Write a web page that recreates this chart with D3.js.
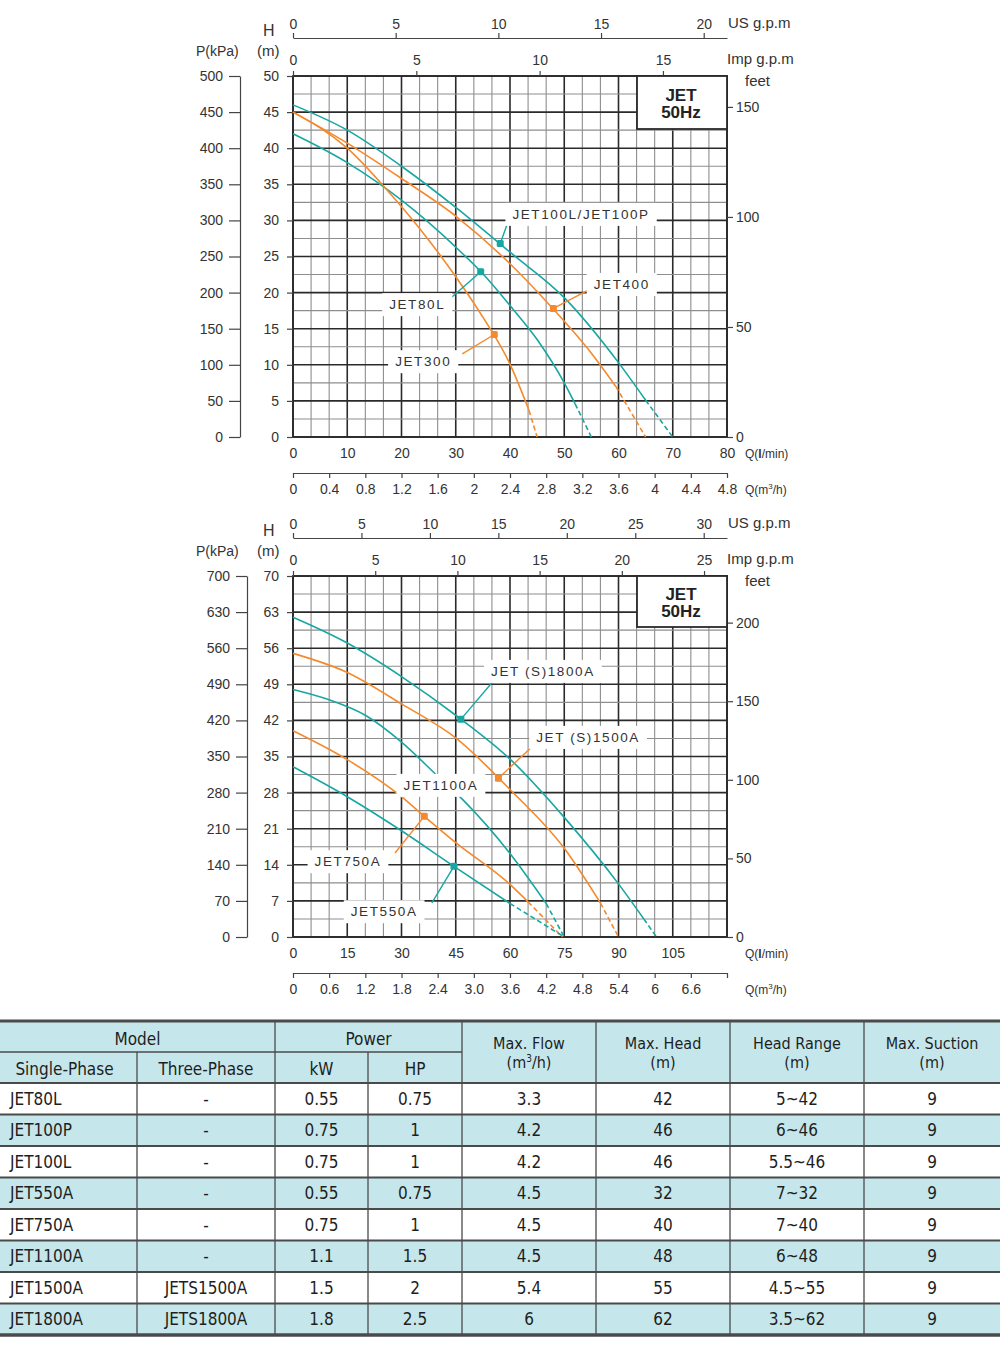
<!DOCTYPE html>
<html>
<head>
<meta charset="utf-8">
<script src="https://cdn.jsdelivr.net/npm/d3@7"></script>
<style>
body { margin: 0; background: #fff; }
svg { display: block; }
</style>
</head>
<body>
<div id="chart"></div>
<script>
// ---------- data: top chart (Q in l/min, H in m) ----------
let topQTicks = [0, 10, 20, 30, 40, 50, 60, 70, 80];
let topHTicks = [0, 5, 10, 15, 20, 25, 30, 35, 40, 45, 50];
let topPTicks = [0, 50, 100, 150, 200, 250, 300, 350, 400, 450, 500];
let topFeetTicks = [0, 50, 100, 150];
let topUsTicks = [0, 5, 10, 15, 20];
let topImpTicks = [0, 5, 10, 15];
let topM3Ticks = [0, 0.4, 0.8, 1.2, 1.6, 2, 2.4, 2.8, 3.2, 3.6, 4, 4.4, 4.8];
let topM3Labels = ["0", "0.4", "0.8", "1.2", "1.6", "2", "2.4", "2.8", "3.2", "3.6", "4", "4.4", "4.8"];

let jet100 = [[0, 46], [10, 42.5], [20, 37.5], [30, 31.8], [40, 25.6], [50, 19.3], [60, 10.3], [65, 5.1], [70, 0]];
let jet400 = [[0, 45], [10, 40.7], [20, 35.8], [30, 30.6], [40, 24], [48, 17.7], [55, 11.6], [59.5, 7], [65, 0]];
let jet80 = [[0, 42], [10, 38], [20, 32.8], [30, 26.3], [35, 22.6], [40, 18.2], [45, 13.5], [50, 7.5], [52, 4.6], [55, 0]];
let jet300 = [[0, 45], [10, 40], [17, 34.5], [25, 27.3], [30, 22.2], [35, 16.6], [40, 10.1], [43.5, 3.7], [45, 0]];

let topNames = ["JET100L/JET100P", "JET400", "JET80L", "JET300"];
let topColors = ["teal", "orange", "teal", "orange"];
let topMarkers = [[38.2, 26.8], [48, 17.8], [34.6, 22.9], [37.1, 14.2]];
let topLabelAt = [[53.1, 30.9], [60.6, 21.2], [22.9, 18.4], [24, 10.5]];
let topLeaderTo = [[39.4, 29.3], [54.6, 20.4], [29.3, 19.4], [31.2, 11.5]];

// ---------- data: bottom chart ----------
let botQTicks = [0, 15, 30, 45, 60, 75, 90, 105];
let botHTicks = [0, 7, 14, 21, 28, 35, 42, 49, 56, 63, 70];
let botPTicks = [0, 70, 140, 210, 280, 350, 420, 490, 560, 630, 700];
let botFeetTicks = [0, 50, 100, 150, 200];
let botUsTicks = [0, 5, 10, 15, 20, 25, 30];
let botImpTicks = [0, 5, 10, 15, 20, 25];
let botM3Ticks = [0, 0.6, 1.2, 1.8, 2.4, 3.0, 3.6, 4.2, 4.8, 5.4, 6, 6.6, 7.2];
let botM3Labels = ["0", "0.6", "1.2", "1.8", "2.4", "3.0", "3.6", "4.2", "4.8", "5.4", "6", "6.6", ""];

let jet1800 = [[0, 62], [15, 57], [30, 50.5], [45, 43], [60, 34.5], [75, 23.2], [90, 10.3], [97, 3.5], [100.5, 0]];
let jet1500 = [[0, 55], [15, 51.3], [30, 45.2], [45, 38.6], [60, 28.6], [75, 17.2], [85, 6.6], [90, 0]];
let jet1100 = [[0, 48], [10, 46], [20, 43], [30, 37.8], [40, 31.2], [47, 26.6], [60, 16.2], [70, 6.5], [75, 0]];
let jet750 = [[0, 40], [15, 34.4], [30, 27.2], [36.3, 23.4], [45, 18.3], [60, 10.2], [65, 6.8], [74.5, 0]];
let jet550 = [[0, 33], [15, 27.2], [30, 20.6], [44.5, 13.7], [60, 6.5], [75, 0]];

let botNames = ["JET (S)1800A", "JET (S)1500A", "JET1100A", "JET750A", "JET550A"];
let botColors = ["teal", "orange", "teal", "orange", "teal"];
let botMarkers = [[46.4, 42.2], [56.8, 30.8], null, [36.3, 23.4], [44.5, 13.7]];
let botLabelAt = [[69.1, 51.6], [81.6, 38.8], [40.9, 29.5], [15.2, 14.7], [25.2, 5]];
let botLeaderTo = [[55, 49.3], [67.5, 37.8], null, [28.2, 16.3], [38.4, 6.6]];

// ---------- data: table ----------
let singlePhase = ["JET80L", "JET100P", "JET100L", "JET550A", "JET750A", "JET1100A", "JET1500A", "JET1800A"];
let threePhase = ["-", "-", "-", "-", "-", "-", "JETS1500A", "JETS1800A"];
let powerKw = ["0.55", "0.75", "0.75", "0.55", "0.75", "1.1", "1.5", "1.8"];
let powerHp = ["0.75", "1", "1", "0.75", "1", "1.5", "2", "2.5"];
let maxFlow = ["3.3", "4.2", "4.2", "4.5", "4.5", "4.5", "5.4", "6"];
let maxHead = ["42", "46", "46", "32", "40", "48", "55", "62"];
let headRange = ["5~42", "6~46", "5.5~46", "7~32", "7~40", "6~48", "4.5~55", "3.5~62"];
let maxSuction = ["9", "9", "9", "9", "9", "9", "9", "9"];

let palette = { teal: "#17a7a3", orange: "#f5892b" };
let font = "'Liberation Sans', Arial, sans-serif";
let ink = "#333";

let svg = d3.select("#chart").append("svg")
	.attr("width", 1000)
	.attr("height", 1353)
	.style("font-family", font);

function styleAxis(sel, size) {
	sel.selectAll("text").style("font-size", size + "px").style("fill", ink).style("font-family", font);
	sel.selectAll("line").attr("stroke", "#444").attr("stroke-width", 1.2);
	sel.selectAll("path").attr("stroke", "#444").attr("stroke-width", 1.2);
}

function drawChart(o) {
	let left = 293, right = 727;
	let x = d3.scaleLinear().domain([0, o.qMax]).range([left, right]);
	let y = d3.scaleLinear().domain([0, o.hMax]).range([o.yBottom, o.yTop]);
	let g = svg.append("g");

	// grid: 24 columns, 20 rows, every 3rd column / 2nd row darker
	let cols = d3.range(0, 25), rows = d3.range(0, 21);
	g.selectAll(".vg").data(cols).enter().append("line")
		.attr("x1", function(i){ return x(o.qMax * i / 24); })
		.attr("x2", function(i){ return x(o.qMax * i / 24); })
		.attr("y1", o.yTop).attr("y2", o.yBottom)
		.attr("stroke", function(i){ return i % 3 == 0 ? "#2a2a2a" : "#8e8e8e"; })
		.attr("stroke-width", function(i){ return i % 3 == 0 ? 1.6 : 1.1; });
	g.selectAll(".hg").data(rows).enter().append("line")
		.attr("y1", function(i){ return y(o.hMax * i / 20); })
		.attr("y2", function(i){ return y(o.hMax * i / 20); })
		.attr("x1", left).attr("x2", right)
		.attr("stroke", function(i){ return i % 2 == 0 ? "#2a2a2a" : "#8e8e8e"; })
		.attr("stroke-width", function(i){ return i % 2 == 0 ? 1.6 : 1.1; });
	g.append("rect")
		.attr("x", left).attr("y", o.yTop)
		.attr("width", right - left).attr("height", o.yBottom - o.yTop)
		.attr("fill", "none").attr("stroke", "#2a2a2a").attr("stroke-width", 1.8);

	// H axis
	let hAxis = g.append("g").attr("transform", "translate(" + left + ",0)")
		.call(d3.axisLeft(y).tickValues(o.hTicks).tickSize(6).tickPadding(8));
	hAxis.select(".domain").remove();
	styleAxis(hAxis, 14);

	// P axis
	let p = d3.scaleLinear().domain([0, o.hMax * 10]).range([o.yBottom, o.yTop]);
	let pAxis = g.append("g").attr("transform", "translate(" + o.pX + ",0)")
		.call(d3.axisLeft(p).tickValues(o.pTicks).tickSize(11).tickSizeOuter(0).tickPadding(6));
	styleAxis(pAxis, 14);

	// feet axis
	let ft = d3.scaleLinear().domain([0, o.hMax * 3.28084]).range([o.yBottom, o.yTop]);
	let fAxis = g.append("g").attr("transform", "translate(" + right + ",0)")
		.call(d3.axisRight(ft).tickValues(o.feetTicks).tickSize(6).tickPadding(3));
	fAxis.select(".domain").remove();
	styleAxis(fAxis, 14);

	// US gpm axis
	let us = d3.scaleLinear().domain([0, o.qMax / 3.78541]).range([left, right]);
	let usAxis = g.append("g").attr("transform", "translate(0," + o.usY + ")")
		.call(d3.axisTop(us).tickValues(o.usTicks).tickSize(5).tickSizeOuter(0).tickPadding(4));
	styleAxis(usAxis, 14);

	// Imp gpm axis
	let imp = d3.scaleLinear().domain([0, o.qMax / 4.54609]).range([left, right]);
	let impAxis = g.append("g").attr("transform", "translate(0," + o.yTop + ")")
		.call(d3.axisTop(imp).tickValues(o.impTicks).tickSize(5).tickPadding(6));
	impAxis.select(".domain").remove();
	styleAxis(impAxis, 14);

	// Q l/min axis
	let qAxis = g.append("g").attr("transform", "translate(0," + o.yBottom + ")")
		.call(d3.axisBottom(x).tickValues(o.qTicks).tickSize(0).tickPadding(11));
	qAxis.select(".domain").remove();
	styleAxis(qAxis, 14);

	// Q m3/h axis
	let m3 = d3.scaleLinear().domain([0, o.qMax * 0.06]).range([left, right]);
	let m3Axis = g.append("g").attr("transform", "translate(0," + o.m3Y + ")")
		.call(d3.axisBottom(m3).tickValues(o.m3Ticks).tickSize(5).tickSizeOuter(0).tickPadding(6)
			.tickFormat(function(d, i){ return o.m3Labels[i]; }));
	styleAxis(m3Axis, 14);

	// unit labels
	let t = function(tx, ty, s, size){
		return g.append("text").attr("x", tx).attr("y", ty).text(s)
			.style("font-size", (size || 14) + "px").style("fill", ink);
	};
	t(728, o.usY - 10, "US g.p.m", 15);
	t(727, o.yTop - 12, "Imp g.p.m", 15);
	t(745, o.yTop + 10, "feet", 15);
	t(263, o.usY - 2, "H", 16);
	t(257, o.yTop - 20, "(m)", 15);
	t(196, o.yTop - 20, "P(kPa)", 14);
	let ql = t(745, o.yBottom + 21, "Q(", 12);
	ql.append("tspan").style("font-weight", "bold").text("l");
	ql.append("tspan").text("/min)");
	let qm = t(745, o.m3Y + 21, "Q(m", 12);
	qm.append("tspan").attr("dy", -5).style("font-size", "8px").text("3");
	qm.append("tspan").attr("dy", 5).text("/h)");

	// curves: smooth solid part, dashed last segment
	let line = d3.line()
		.x(function(d){ return x(d[0]); })
		.y(function(d){ return y(d[1]); })
		.curve(d3.curveMonotoneX);
	o.curves.forEach(function(c, i){
		let col = palette[o.colors[i]];
		g.append("path").attr("d", line(c.slice(0, c.length - 1)))
			.attr("fill", "none").attr("stroke", col).attr("stroke-width", 1.6);
		g.append("path").attr("d", d3.line().x(function(d){ return x(d[0]); }).y(function(d){ return y(d[1]); })(c.slice(c.length - 2)))
			.attr("fill", "none").attr("stroke", col).attr("stroke-width", 1.6)
			.attr("stroke-dasharray", "5,3");
	});

	// leaders + markers
	o.markers.forEach(function(m, i){
		if (!m) return;
		let col = palette[o.colors[i]];
		let to = o.leaders[i];
		g.append("line")
			.attr("x1", x(m[0])).attr("y1", y(m[1]))
			.attr("x2", x(to[0])).attr("y2", y(to[1]))
			.attr("stroke", col).attr("stroke-width", 1.4);
		g.append("rect")
			.attr("x", x(m[0]) - 3.5).attr("y", y(m[1]) - 3.5)
			.attr("width", 7).attr("height", 7).attr("rx", 1.5)
			.attr("fill", col);
	});

	// curve labels on white boxes
	o.names.forEach(function(n, i){
		let at = o.labelAt[i];
		let lg = g.append("g");
		let box = lg.append("rect").attr("fill", "#fff");
		let tx = lg.append("text")
			.attr("x", x(at[0])).attr("y", y(at[1]) + 5)
			.attr("text-anchor", "middle")
			.style("font-size", "13.5px").style("letter-spacing", "1.6px").style("fill", ink)
			.text(n);
		let bb = tx.node().getBBox();
		box.attr("x", bb.x - 7).attr("y", bb.y - 4).attr("width", bb.width + 14).attr("height", bb.height + 8);
	});

	// JET 50Hz box
	g.append("rect")
		.attr("x", 637).attr("y", o.yTop)
		.attr("width", right - 637).attr("height", o.boxH)
		.attr("fill", "#fff").attr("stroke", "#2a2a2a").attr("stroke-width", 1.8);
	g.append("text").attr("x", 681).attr("y", o.yTop + o.boxH / 2 - 2).attr("text-anchor", "middle")
		.style("font-size", "17px").style("font-weight", "bold").style("fill", "#222").text("JET");
	g.append("text").attr("x", 681).attr("y", o.yTop + o.boxH / 2 + 15).attr("text-anchor", "middle")
		.style("font-size", "17px").style("font-weight", "bold").style("fill", "#222").text("50Hz");
}

drawChart({
	qMax: 80, hMax: 50, yTop: 76, yBottom: 437, usY: 38, m3Y: 473, pX: 240, boxH: 53,
	qTicks: topQTicks, hTicks: topHTicks, pTicks: topPTicks, feetTicks: topFeetTicks,
	usTicks: topUsTicks, impTicks: topImpTicks, m3Ticks: topM3Ticks, m3Labels: topM3Labels,
	curves: [jet100, jet400, jet80, jet300], colors: topColors, names: topNames,
	markers: topMarkers, labelAt: topLabelAt, leaders: topLeaderTo
});

drawChart({
	qMax: 120, hMax: 70, yTop: 576, yBottom: 937, usY: 538, m3Y: 973, pX: 247, boxH: 51,
	qTicks: botQTicks, hTicks: botHTicks, pTicks: botPTicks, feetTicks: botFeetTicks,
	usTicks: botUsTicks, impTicks: botImpTicks, m3Ticks: botM3Ticks, m3Labels: botM3Labels,
	curves: [jet1800, jet1500, jet1100, jet750, jet550], colors: botColors, names: botNames,
	markers: botMarkers, labelAt: botLabelAt, leaders: botLeaderTo
});

// ---------- table ----------
let tfont = "'DejaVu Sans Condensed', 'Liberation Sans Narrow', sans-serif";
let colX = [0, 137, 275, 368, 462, 596, 730, 864, 1000];
let tTop = 1021, hRow = 31, rowH = 31.5;
let bodyTop = tTop + 2 * hRow;
let tealBg = "#c5e7eb";
let tg = svg.append("g").style("font-family", tfont).style("font-size", "17px");

tg.append("rect").attr("x", 0).attr("y", tTop).attr("width", 1000).attr("height", 2 * hRow).attr("fill", tealBg);
singlePhase.forEach(function(d, i){
	tg.append("rect").attr("x", 0).attr("y", bodyTop + i * rowH)
		.attr("width", 1000).attr("height", rowH)
		.attr("fill", i % 2 == 1 ? tealBg : "#fff");
});

function cell(cx, cy, s, anchor) {
	return tg.append("text").attr("x", cx).attr("y", cy)
		.attr("text-anchor", anchor || "middle").style("fill", "#1e1e1e").text(s);
}
let mid = function(c){ return (colX[c] + colX[c + 1]) / 2; };

cell((colX[0] + colX[2]) / 2, tTop + 24, "Model");
cell((colX[2] + colX[4]) / 2, tTop + 24, "Power");
cell(mid(0) - 4, tTop + hRow + 23, "Single-Phase");
cell(mid(1), tTop + hRow + 23, "Three-Phase");
cell(mid(2), tTop + hRow + 23, "kW");
cell(mid(3), tTop + hRow + 23, "HP");
let twoLine = [["Max. Flow", "(m3/h)"], ["Max. Head", "(m)"], ["Head Range", "(m)"], ["Max. Suction", "(m)"]];
twoLine.forEach(function(h, i){
	cell(mid(4 + i), tTop + 28, h[0]).style("font-size", "16px");
	if (h[1] == "(m3/h)") {
		let s = cell(mid(4 + i), tTop + 47, "(m").style("font-size", "16px");
		s.append("tspan").attr("dy", -6).style("font-size", "10px").text("3");
		s.append("tspan").attr("dy", 6).text("/h)");
	} else {
		cell(mid(4 + i), tTop + 47, h[1]).style("font-size", "16px");
	}
});

let cols = [threePhase, powerKw, powerHp, maxFlow, maxHead, headRange, maxSuction];
singlePhase.forEach(function(d, i){
	let cy = bodyTop + i * rowH + rowH / 2 + 6;
	cell(10, cy, d, "start");
	cols.forEach(function(arr, c){ cell(mid(c + 1), cy, arr[i]); });
});

// table lines
let lineC = "#4a4a4a";
let hl = function(y, x1, x2, w){
	tg.append("line").attr("x1", x1).attr("x2", x2).attr("y1", y).attr("y2", y)
		.attr("stroke", lineC).attr("stroke-width", w);
};
let vl = function(x, y1, y2){
	tg.append("line").attr("x1", x).attr("x2", x).attr("y1", y1).attr("y2", y2)
		.attr("stroke", lineC).attr("stroke-width", 1.3);
};
let tBottom = bodyTop + singlePhase.length * rowH;
[2, 4, 5, 6, 7].forEach(function(c){ vl(colX[c], tTop, tBottom); });
[1, 3].forEach(function(c){ vl(colX[c], tTop + hRow, tBottom); });
hl(tTop, 0, 1000, 3);
hl(tTop + hRow, 0, colX[4], 1.5);
for (let i = 0; i < singlePhase.length; i++) hl(bodyTop + i * rowH, 0, 1000, 2);
hl(tBottom, 0, 1000, 3.5);
</script>
</body>
</html>
